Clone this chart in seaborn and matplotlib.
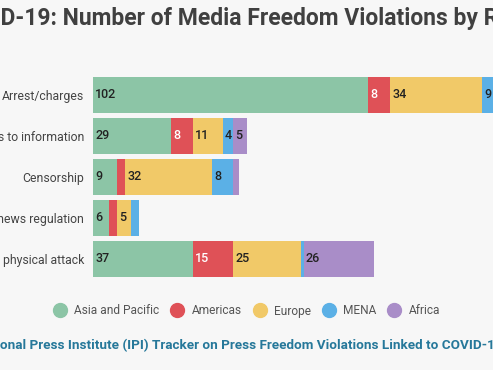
import numpy as np
import pandas as pd
import seaborn as sns
import matplotlib.pyplot as plt
from matplotlib.lines import Line2D

# data
categories = ["Arrest/charges", "Restrictions on access to information", "Censorship",
              "Fake news regulation", "Verbal or physical attack"]
regions = ["Asia and Pacific", "Americas", "Europe", "MENA", "Africa"]
asia = [102, 29, 9, 6, 37]
americas = [8, 8, 3, 3, 15]
europe = [34, 11, 32, 5, 25]
mena = [9, 4, 8, 3, 1]
africa = [8, 5, 2, 0, 26]
colors = ["#8cc5a6", "#df5157", "#f1c968", "#5bb0e6", "#a98dc8"]
title = "COVID-19: Number of Media Freedom Violations by Region"
source = "Source: International Press Institute (IPI) Tracker on Press Freedom Violations Linked to COVID-19"

df = pd.DataFrame({"category": categories, "Asia and Pacific": asia, "Americas": americas,
                   "Europe": europe, "MENA": mena, "Africa": africa})
cum = df[regions].cumsum(axis=1)

sns.set_theme(style="white")
plt.rcParams['font.family'] = ['Roboto', 'DejaVu Sans']
bg = "#f7f7f7"

W, H = 493, 370
fig = plt.figure(figsize=(W / 100, H / 100), dpi=100, facecolor=bg)
ax = fig.add_axes([93 / W, 1 - 279 / H, 400 / W, (279 - 74.5) / H], facecolor=bg)

# stacked bars: draw cumulative totals from the outermost region inwards
for reg, col in reversed(list(zip(regions, colors))):
    sns.barplot(x=cum[reg], y=df["category"], color=col, orient="h", width=0.88,
                saturation=1, linewidth=0, ax=ax)

for i, cat in enumerate(categories):
    for reg, col in zip(regions, colors):
        v = df.loc[i, reg]
        if v >= 4:
            left = cum.loc[i, reg] - v
            ax.annotate(str(v), (left, i), xytext=(1.5, 0), textcoords="offset points",
                        va="center", ha="left", fontsize=9, fontweight="medium",
                        color="white" if reg == "Americas" else "#222222")

ax.set_xlim(0, 400 / 2.70)
ax.set_xlabel("")
ax.set_ylabel("")
ax.set_xticks([])
ax.tick_params(axis="y", length=0, pad=6.5, labelsize=8.8, labelcolor="#444444")
for s in ax.spines.values():
    s.set_visible(False)

# title and source are cut off at the left edge of the picture
r = fig.canvas.get_renderer()
t = fig.text(0, 0, "COVI", fontsize=16.5, fontweight="bold")
off_t = t.get_window_extent(r).width / W
t.remove()
fig.text(-off_t, 1 - 18 / H, title, fontsize=16.5, fontweight="bold", color="#404040",
         va="center", ha="left")
s = fig.text(0, 0, "Source: Internati", fontsize=9.7, fontweight="bold")
off_s = s.get_window_extent(r).width / W
s.remove()
fig.text(-off_s, 1 - 346 / H, source, fontsize=9.7, fontweight="bold", color="#26789a",
         va="center", ha="left")

handles = [Line2D([], [], marker="o", linestyle="", markersize=10, color=c) for c in colors]
fig.legend(handles, regions, loc="center", bbox_to_anchor=(0.5, 1 - 311 / H), ncol=5,
           frameon=False, fontsize=8.6, labelcolor="#555555", handletextpad=0.6,
           columnspacing=0.9, handlelength=1.2)

fig.savefig("out.png", dpi=100, facecolor=bg)
